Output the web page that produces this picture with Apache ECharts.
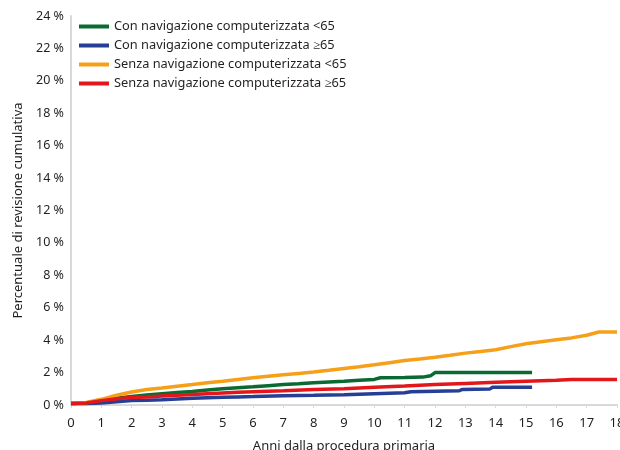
<!DOCTYPE html>
<html><head><meta charset="utf-8">
<script src="https://cdn.jsdelivr.net/npm/echarts@6/dist/echarts.min.js"></script>
<style>html,body{margin:0;padding:0;background:#fff}#c{width:620px;height:450px}</style>
</head><body><div id="c"></div>
<script>
const seriesNames = [
  "Con navigazione computerizzata <65",
  "Con navigazione computerizzata ≥65",
  "Senza navigazione computerizzata <65",
  "Senza navigazione computerizzata ≥65"
];
const colors = ["#0a6a32", "#263f94", "#f6a01a", "#e3171b"];
// [years, percent]
const conUnder65 = [[0,0.1],[0.5,0.12],[1,0.28],[1.5,0.42],[2,0.53],[2.5,0.62],[3,0.7],[3.5,0.77],[4,0.84],[4.5,0.92],[5,1.0],[5.5,1.06],[6,1.12],[6.5,1.19],[7,1.26],[7.5,1.31],[8,1.37],[8.5,1.42],[9,1.47],[9.5,1.53],[10,1.58],[10.2,1.68],[11,1.7],[11.6,1.72],[11.85,1.8],[12,2.0],[13,2.0],[14,2.0],[15.2,2.0]];
const conOver65 = [[0,0.1],[0.5,0.1],[1,0.12],[1.5,0.2],[2,0.28],[2.5,0.3],[3,0.33],[3.5,0.37],[4,0.41],[4.5,0.45],[5,0.48],[5.5,0.5],[6,0.52],[7,0.57],[8,0.6],[9,0.64],[10,0.7],[11,0.76],[11.2,0.82],[12,0.85],[12.8,0.88],[12.9,0.96],[13.8,0.98],[13.9,1.1],[15.2,1.1]];
const senzaUnder65 = [[0,0.1],[0.5,0.15],[1,0.35],[1.5,0.6],[2,0.8],[2.5,0.95],[3,1.05],[3.5,1.16],[4,1.26],[4.5,1.37],[5,1.47],[5.5,1.58],[6,1.68],[6.5,1.77],[7,1.86],[7.5,1.95],[8,2.04],[8.5,2.14],[9,2.25],[9.5,2.36],[10,2.48],[10.5,2.61],[11,2.74],[11.5,2.84],[12,2.95],[12.5,3.07],[13,3.2],[13.5,3.3],[14,3.41],[14.5,3.6],[15,3.78],[15.5,3.9],[16,4.02],[16.5,4.14],[17,4.3],[17.4,4.5],[18,4.5]];
const senzaOver65 = [[0,0.1],[0.5,0.12],[1,0.27],[1.5,0.38],[2,0.46],[2.5,0.5],[3,0.55],[3.5,0.6],[4,0.65],[4.5,0.7],[5,0.74],[5.5,0.78],[6,0.82],[7,0.88],[8,0.95],[9,1.01],[10,1.09],[11,1.17],[12,1.26],[13,1.33],[14,1.4],[15,1.46],[16,1.52],[16.5,1.57],[18,1.57]];
const allData = [conUnder65, conOver65, senzaUnder65, senzaOver65];
const yTickStep = 2, yMax = 24, xMax = 18;
const xTitle = "Anni dalla procedura primaria";
const yTitle = "Percentuale di revisione cumulativa";

const font = "Noto Sans";
const chart = echarts.init(document.getElementById('c'));
chart.setOption({
  animation: false,
  color: colors,
  textStyle: {fontFamily: font},
  grid: {left: 71, right: 3, top: 16, bottom: 45, containLabel: false, outerBoundsMode: 'none'},
  legend: {
    orient: 'vertical', left: 74, top: 15,
    itemWidth: 30, itemHeight: 4, itemGap: 6, icon: 'rect',
    textStyle: {fontSize: 12.8, color: '#231f20', fontFamily: font, padding: [0,0,0,0]},
    data: seriesNames
  },
  xAxis: {
    type: 'value', min: 0, max: xMax, interval: 1,
    name: xTitle, nameLocation: 'middle', nameGap: 35,
    nameTextStyle: {fontSize: 13, color: '#231f20'},
    axisLine: {lineStyle: {color: '#d9d9d9', width: 2}},
    axisTick: {show: true, length: 3, lineStyle: {color: '#d9d9d9'}},
    axisLabel: {fontSize: 13, color: '#231f20', margin: 12},
    splitLine: {show: false}
  },
  yAxis: {
    type: 'value', min: 0, max: yMax, interval: yTickStep,
    name: yTitle, nameLocation: 'middle', nameGap: 46, nameRotate: 90,
    nameTextStyle: {fontSize: 13, color: '#231f20'},
    axisLine: {show: true, lineStyle: {color: '#d9d9d9', width: 2}},
    axisTick: {show: false},
    axisLabel: {fontSize: 12.5, color: '#231f20', margin: 7, formatter: v => v + ' %'},
    splitLine: {show: false}
  },
  series: seriesNames.map((n, i) => ({
    name: n, type: 'line', data: allData[i], showSymbol: false, symbol: 'none',
    lineStyle: {width: 3.5, color: colors[i]}, z: [3,2,4,5][i]
  }))
});
</script></body></html>
